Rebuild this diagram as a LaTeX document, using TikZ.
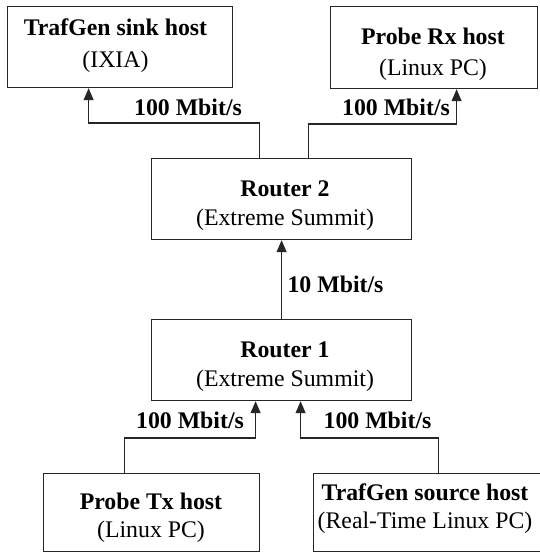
\documentclass[tikz,border=0pt]{standalone}
\usepackage{fontspec}
\setmainfont{Liberation Serif}
\newfontfamily\hostfont{Liberation Serif}
\usetikzlibrary{arrows.meta}

\tikzset{
  hostbox/.style={draw=black!85, line width=1.2pt, rectangle, inner sep=0pt,
                  anchor=north west},
  title/.style={font=\hostfont\fontsize{23.8}{28}\selectfont\bfseries, anchor=base, inner sep=0pt},
  subtitle/.style={font=\hostfont\fontsize{23.8}{28}\selectfont, anchor=base, inner sep=0pt},
  rate/.style={font=\hostfont\fontsize{23.8}{28}\selectfont\bfseries, anchor=base, inner sep=0pt},
  link/.style={draw=black!85, line width=1.2pt,
               -{Triangle[length=12pt,width=10pt]}},
}

\begin{document}
\begin{tikzpicture}[x=1pt,y=-1pt]
  \useasboundingbox (0,0) rectangle (540,552);

  % hosts and routers
  \node[hostbox, minimum width=225pt, minimum height=81pt] (sink) at (7,6) {};
  \node[hostbox, minimum width=207pt, minimum height=82pt] (rx)   at (330,6) {};
  \node[hostbox, minimum width=260pt, minimum height=81pt] (r2)   at (151,158) {};
  \node[hostbox, minimum width=260pt, minimum height=81pt] (r1)   at (151,319) {};
  \node[hostbox, minimum width=216pt, minimum height=78pt] (tx)   at (43,473) {};
  \node[hostbox, minimum width=247pt, minimum height=78pt] (src)  at (313,473) {};

  % box captions
  \node[title]    (sinkA) at (115.5,35) {TrafGen sink host};
  \node[subtitle] (sinkB) at (115.5,67) {(IXIA)};
  \node[title]    (rxA)   at (433,44)   {Probe Rx host};
  \node[subtitle] (rxB)   at (433,75)   {(Linux PC)};
  \node[title]    (r2A)   at (285,196)  {Router 2};
  \node[subtitle] (r2B)   at (285,225)  {(Extreme Summit)};
  \node[title]    (r1A)   at (285,357)  {Router 1};
  \node[subtitle] (r1B)   at (285,386)  {(Extreme Summit)};
  \node[title]    (txA)   at (151,509)  {Probe Tx host};
  \node[subtitle] (txB)   at (151,537)  {(Linux PC)};
  \node[title]    (srcA)  at (425,500)  {TrafGen source host};
  \node[subtitle] (srcB)  at (425,528)  {(Real-Time Linux PC)};

  % link rates
  \node[rate] (l1) at (188,115)   {100 Mbit/s};
  \node[rate] (l2) at (396,115)   {100 Mbit/s};
  \node[rate] (l3) at (335.5,292) {10 Mbit/s};
  \node[rate] (l4) at (190,428)   {100 Mbit/s};
  \node[rate] (l5) at (377.5,428) {100 Mbit/s};

  % links
  \draw[link] ([xshift=-22pt]r2.north) -- ++(0,-35) -| ([xshift=-31.5pt]sink.south);
  \draw[link] ([xshift=27pt]r2.north)  -- ++(0,-34) -| ([xshift=22.5pt]rx.south);
  \draw[link] (r1.north) -- (r2.south);
  \draw[link] ([xshift=-27pt]tx.north) -- ++(0,-35) -| ([xshift=-26pt]r1.south);
  \draw[link] ([xshift=1.5pt]src.north) -- ++(0,-35) -| ([xshift=19pt]r1.south);
\end{tikzpicture}
\end{document}
